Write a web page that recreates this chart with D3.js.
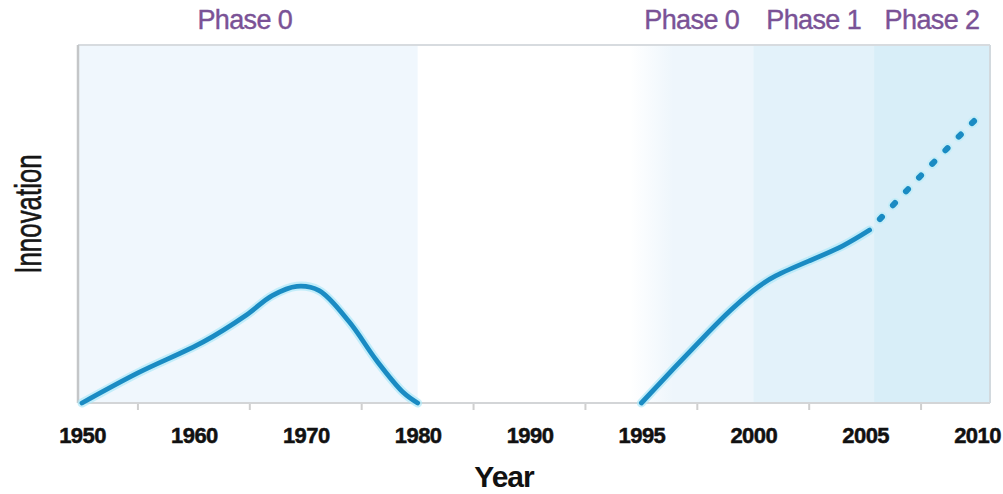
<!DOCTYPE html>
<html>
<head>
<meta charset="utf-8">
<script src="https://cdn.jsdelivr.net/npm/d3@7"></script>
<style>
  html, body { margin: 0; padding: 0; background: #ffffff; }
  svg { display: block; }
</style>
</head>
<body>
<svg id="chart" width="1003" height="494"></svg>
<script>
// ---------- data ----------
const tickLabels = ["1950", "1960", "1970", "1980", "1990", "1995", "2000", "2005", "2010"];

// First wave of innovation (solid curve)
const wave1Years  = [1950, 1955, 1960.8, 1964.7, 1967, 1969.2, 1971.2, 1973.9, 1976.3, 1978.7, 1980];
const wave1Values = [0, 8.4, 17.0, 24.6, 30.0, 32.6, 31.4, 22.6, 12.0, 3.0, 0];

// Second wave (solid part)
const wave2Years  = [1995, 1996.5, 1998, 1999, 2000, 2001, 2002.5, 2004, 2005.2];
const wave2Values = [0, 10.0, 19.8, 26.0, 31.4, 35.5, 39.7, 43.9, 48.3];

// Projection (dotted part)
const projYears  = [2005.2, 2007.6, 2010];
const projValues = [48.3, 64.2, 79.6];

// Phase bands (null = edge of plot area)
const phaseLabels = ["Phase 0", "Phase 0", "Phase 1", "Phase 2"];
const phaseStart  = [null, 1994.5, 2000, 2005.4];
const phaseEnd    = [1980, 2000, 2005.4, null];

// ---------- layout ----------
const plot = { left: 78, right: 990, top: 45, bottom: 403 };
const bandColors = ["#f0f7fd", "#eef6fc", "#e3f2fa", "#d8eef8"];
const lineColor = "#1a8bc3";
const font = "Liberation Sans, Arial, sans-serif";

const svg = d3.select("#chart");
const defs = svg.append("defs");

// point scale for the (non-uniform) year labels
const pt = d3.scalePoint().domain(tickLabels).range([82, 977]);
// piecewise linear year scale built from it
const x = d3.scaleLinear()
  .domain(tickLabels.map(Number))
  .range(tickLabels.map(d => pt(d)));
const y = d3.scaleLinear().domain([0, 100]).range([plot.bottom, plot.top]);

const bx0 = d => d === null ? plot.left : x(d);
const bx1 = d => d === null ? plot.right : x(d);

// gradient for the fading-in left edge of the second Phase 0 band
const g = defs.append("linearGradient").attr("id", "fadeIn").attr("x1", 0).attr("x2", 1);
g.append("stop").attr("offset", "0%").attr("stop-color", "#ffffff");
g.append("stop").attr("offset", "35%").attr("stop-color", bandColors[1]);
g.append("stop").attr("offset", "100%").attr("stop-color", bandColors[1]);

// ---------- bands ----------
const bands = phaseLabels.map((l, i) => ({ label: l, s: phaseStart[i], e: phaseEnd[i], i }));
svg.append("g").selectAll("rect").data(bands).join("rect")
  .attr("x", d => bx0(d.s))
  .attr("y", plot.top)
  .attr("width", d => bx1(d.e) - bx0(d.s))
  .attr("height", plot.bottom - plot.top)
  .attr("fill", d => d.i === 1 ? "url(#fadeIn)" : bandColors[d.i]);

// phase labels
svg.append("g").selectAll("text").data(bands).join("text")
  .attr("x", d => (bx0(d.s) + bx1(d.e)) / 2 - (d.i === 0 ? 3 : 0))
  .attr("y", 29)
  .attr("text-anchor", "middle")
  .attr("font-family", font)
  .attr("font-size", 27)
  .attr("letter-spacing", "-0.6")
  .attr("fill", "#7a5296")
  .attr("stroke", "#7a5296").attr("stroke-width", 0.4)
  .text(d => d.label);

// ---------- frame ----------
svg.append("line").attr("x1", plot.left).attr("x2", plot.right)
  .attr("y1", plot.top).attr("y2", plot.top)
  .attr("stroke", "#d7dbdf").attr("stroke-width", 2);
svg.append("line").attr("x1", plot.right).attr("x2", plot.right)
  .attr("y1", plot.top).attr("y2", plot.bottom)
  .attr("stroke", "#d2d9de").attr("stroke-width", 2);
svg.append("line").attr("x1", plot.left).attr("x2", plot.left)
  .attr("y1", plot.top).attr("y2", plot.bottom)
  .attr("stroke", "#c4c6c8").attr("stroke-width", 2.5);

// ---------- x axis ----------
const axis = svg.append("g")
  .attr("transform", `translate(0,${plot.bottom})`)
  .call(d3.axisBottom(pt).tickSize(0).tickPadding(0));
axis.select(".domain")
  .attr("d", `M${plot.left},0H${plot.right}`)
  .attr("stroke", "#d3d5d7").attr("stroke-width", 2);
axis.selectAll(".tick text")
  .attr("y", 40).attr("dy", 0)
  .attr("font-family", font)
  .attr("font-size", 22)
  .attr("font-weight", "bold")
  .attr("letter-spacing", "-0.6")
  .attr("fill", "#111")
  .attr("stroke", "#111").attr("stroke-width", 0.5);

// small tick marks between labels
const mids = d3.pairs(tickLabels).map(([a, b]) => (pt(a) + pt(b)) / 2);
axis.selectAll(".midtick").data(mids).join("line")
  .attr("class", "midtick")
  .attr("x1", d => d).attr("x2", d => d)
  .attr("y1", 1).attr("y2", 7)
  .attr("stroke", "#cfcfcf").attr("stroke-width", 2);

// axis titles
svg.append("text")
  .attr("x", 504).attr("y", 487)
  .attr("text-anchor", "middle")
  .attr("font-family", font)
  .attr("font-size", 30).attr("font-weight", "bold")
  .attr("letter-spacing", "-1")
  .attr("fill", "#111")
  .text("Year");

svg.append("text")
  .attr("transform", "translate(41,214) rotate(-90) scale(0.7,1)")
  .attr("text-anchor", "middle")
  .attr("font-family", font)
  .attr("font-size", 37)
  .attr("fill", "#161616")
  .attr("stroke", "#161616").attr("stroke-width", 0.6)
  .text("Innovation");

// ---------- curves ----------
const line1 = d3.line().x(d => x(d[0])).y(d => y(d[1])).curve(d3.curveCatmullRom.alpha(0.5));
const line2 = d3.line().x(d => x(d[0])).y(d => y(d[1])).curve(d3.curveNatural);
const w1 = d3.zip(wave1Years, wave1Values);
const w2 = d3.zip(wave2Years, wave2Values);
const pr = d3.zip(projYears, projValues);

const curves = svg.append("g");
[[w1, line1], [w2, line2]].forEach(([pts, ln]) => {
  curves.append("path").attr("d", ln(pts)).attr("fill", "none")
    .attr("stroke", "#aee8f8").attr("stroke-width", 9).attr("stroke-linecap", "round")
    .attr("opacity", 0.7);
  curves.append("path").attr("d", ln(pts)).attr("fill", "none")
    .attr("stroke", lineColor).attr("stroke-width", 4.8).attr("stroke-linecap", "round");
});
curves.append("path").attr("d", line2(pr)).attr("fill", "none")
  .attr("stroke", "#b9ecf9").attr("stroke-width", 10)
  .attr("stroke-dasharray", "3 16").attr("stroke-dashoffset", -15)
  .attr("stroke-linecap", "round").attr("opacity", 0.6);
curves.append("path").attr("d", line2(pr)).attr("fill", "none")
  .attr("stroke", lineColor).attr("stroke-width", 6)
  .attr("stroke-dasharray", "3 16").attr("stroke-dashoffset", -15)
  .attr("stroke-linecap", "round");
</script>
</body>
</html>
